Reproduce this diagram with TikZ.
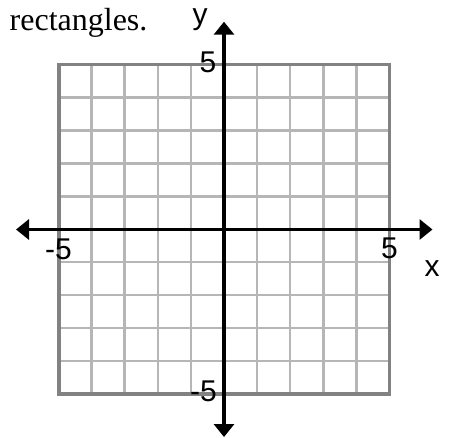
\documentclass[tikz,border=0pt]{standalone}
\usepackage{fontspec}
\setmainfont{Liberation Serif}
\newfontfamily\labelfont{Liberation Sans}
\usetikzlibrary{arrows.meta}
\definecolor{gridlight}{RGB}{182,182,182}
\definecolor{griddark}{RGB}{130,130,130}
\begin{document}
\begin{tikzpicture}[x=1pt,y=-1pt,
  gridline/.style={draw=gridlight,line width=2.7pt},
  gridborder/.style={draw=griddark,line width=3.6pt},
  axisline/.style={line width=3.2pt,{Triangle[length=13pt,width=20pt]}-{Triangle[length=13pt,width=20pt]}},
  axlabel/.style={font=\labelfont\fontsize{30}{32}\selectfont,inner sep=0pt,anchor=base},
  toptext/.style={font=\fontsize{32}{35}\selectfont,inner sep=0pt,anchor=base west}]
\useasboundingbox (0,0) rectangle (453,437);
% grid
\foreach \i in {1,...,9}{
  \draw[gridline] ({58.7+33.06*\i},64.3) -- ({58.7+33.06*\i},394);
  \draw[gridline] (58.7,{64.3+32.97*\i}) -- (389.3,{64.3+32.97*\i});
}
\draw[gridborder] (58.7,64.3) rectangle (389.3,394);
% axes
\coordinate (xl) at (16,229.5);
\coordinate (xr) at (432.5,229.5);
\coordinate (yt) at (224,21.7);
\coordinate (yb) at (224,437);
\draw[axisline] (xl) -- (xr);
\draw[axisline] (yb) -- (yt);
% labels
\node[axlabel] (ly) at (200,24) {y};
\node[axlabel] (lx) at (432,276) {x};
\node[axlabel] (l5t) at (208,72) {5};
\node[axlabel] (l5r) at (389.5,258) {5};
\node[axlabel] (lm5l) at (58.5,259) {-5};
\node[axlabel] (lm5b) at (203.5,401) {-5};
\node[toptext] (txt) at (9.5,30.7) {rectangles.};
\end{tikzpicture}
\end{document}
